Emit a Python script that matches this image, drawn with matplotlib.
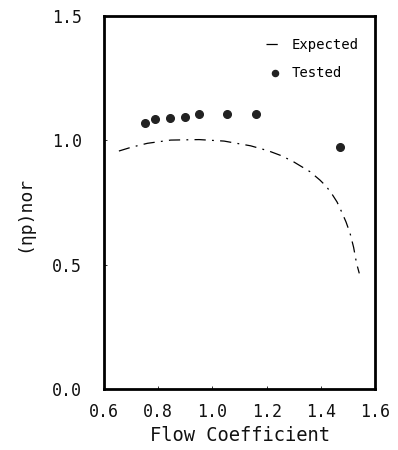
import matplotlib
matplotlib.use("Agg")
import matplotlib.pyplot as plt

# Tested data
tested_x = [0.75, 0.79, 0.845, 0.90, 0.95, 1.055, 1.16, 1.47]
tested_y = [1.07, 1.085, 1.09, 1.095, 1.105, 1.105, 1.105, 0.975]

# Expected curve
expected_x = [0.655, 0.70, 0.76, 0.846, 0.951, 1.043, 1.141, 1.206, 1.255, 1.299,
              1.36, 1.397, 1.42, 1.44, 1.46, 1.477, 1.493, 1.508, 1.521, 1.532, 1.542]
expected_y = [0.957, 0.972, 0.988, 1.001, 1.003, 0.997, 0.978, 0.958, 0.938, 0.914,
              0.874, 0.840, 0.815, 0.786, 0.752, 0.712, 0.672, 0.626, 0.570, 0.505, 0.465]

xticks = [0.6, 0.8, 1.0, 1.2, 1.4, 1.6]
yticks = [0.0, 0.5, 1.0, 1.5]

plt.rcParams['font.family'] = ['DejaVu Sans Mono', 'Noto Sans CJK JP']

fig = plt.figure(figsize=(3.98, 4.5), dpi=100)
ax = fig.add_axes([104/398, 61/450, 271/398, 373/450])

ax.plot(expected_x, expected_y, color='black', lw=0.9,
        linestyle=(0, (9, 5, 1.5, 5)), label='Expected')
ax.plot(tested_x, tested_y, 'o', color='#222222', markersize=5.5, label='Tested')

ax.set_xlim(0.6, 1.6)
ax.set_ylim(0.0, 1.5)
ax.set_xticks(xticks)
ax.set_yticks(yticks)
ax.set_xticklabels([f"{v:.1f}" for v in xticks])
ax.set_yticklabels([f"{v:.1f}" for v in yticks])
ax.tick_params(direction='in', length=2, width=0.6, labelsize=12, colors='#111111')
ax.tick_params(axis='x', pad=10)
ax.tick_params(axis='y', pad=16)
for s in ax.spines.values():
    s.set_linewidth(2)
    s.set_color('black')

ax.set_xlabel('Flow Coefficient', fontsize=13.5, color='#111111', labelpad=4)
ax.set_ylabel('(ηp)nor', fontsize=13, color='#111111')
ax.yaxis.set_label_coords(-0.26, 0.47)

leg = ax.legend(loc='upper right', frameon=False, fontsize=10, handlelength=1.2,
                handletextpad=0.6, labelspacing=1.05, markerscale=0.8,
                bbox_to_anchor=(0.985, 0.975))

fig.savefig('out.png', dpi=100)
